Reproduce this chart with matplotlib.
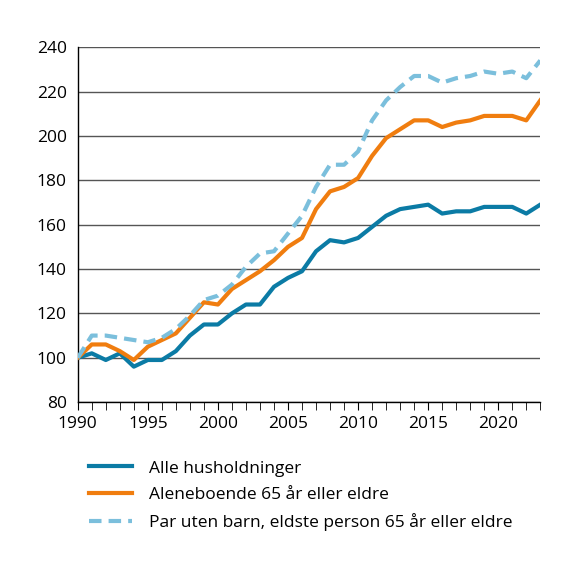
import numpy as np
import matplotlib.pyplot as plt

plt.rcParams['font.family'] = ['Open Sans', 'DejaVu Sans']

# Data
years = list(range(1990, 2024))
alle = [100, 102, 99, 102, 96, 99, 99, 103, 110, 115, 115, 120, 124, 124, 132, 136,
        139, 148, 153, 152, 154, 159, 164, 167, 168, 169, 165, 166, 166, 168, 168, 168,
        165, 169]
alene = [100, 106, 106, 103, 99, 105, 108, 111, 118, 125, 124, 131, 135, 139, 144, 150,
         154, 167, 175, 177, 181, 191, 199, 203, 207, 207, 204, 206, 207, 209, 209, 209,
         207, 216]
par = [100, 110, 110, 109, 108, 107, 109, 113, 119, 126, 128, 133, 141, 147, 148, 156,
       164, 177, 187, 187, 193, 207, 216, 222, 227, 227, 224, 226, 227, 229, 228, 229,
       226, 234]
labels = ['Alle husholdninger', 'Aleneboende 65 år eller eldre',
          'Par uten barn, eldste person 65 år eller eldre']

fig = plt.figure(figsize=(5.76, 5.68), dpi=100)
ax = fig.add_axes([0.135, 0.292, 0.803, 0.625])

ax.plot(years, alle, color='#0b7ba5', lw=3, label=labels[0], zorder=3)
ax.plot(years, alene, color='#f07d0f', lw=3, label=labels[1], zorder=3)
ax.plot(years, par, color='#7bbfdc', lw=3, ls=(0, (3, 1.7)), label=labels[2], zorder=3)

ax.set_xlim(1990, 2023)
ax.set_ylim(80, 240)
ax.set_yticks(range(80, 241, 20))
ax.set_xticks(range(1990, 2021, 5))
ax.set_xticks(years, minor=True)
ax.yaxis.grid(True, color='#555555', lw=1)
ax.set_axisbelow(True)
for s in ['top', 'right']:
    ax.spines[s].set_visible(False)
ax.spines['left'].set_linewidth(1)
ax.spines['bottom'].set_linewidth(1)
ax.tick_params(axis='y', length=0, labelsize=12.5, pad=8)
ax.tick_params(axis='x', which='both', length=6, direction='out', labelsize=12.5, pad=4)

ax.legend(loc='upper left', bbox_to_anchor=(-0.01, -0.12), frameon=False,
          fontsize=12.5, handlelength=2.5, handletextpad=0.95, labelspacing=0.6)

fig.savefig('out.png', dpi=100)
